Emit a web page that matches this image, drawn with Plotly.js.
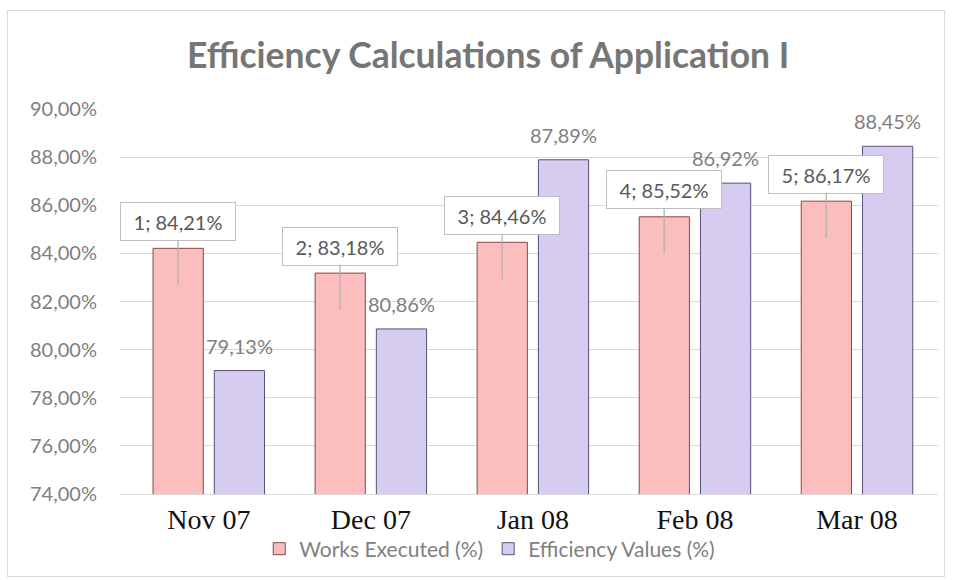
<!DOCTYPE html>
<html>
<head>
<meta charset="utf-8">
<script src="https://cdn.plot.ly/plotly-3.0.1.min.js"></script>
<style>
  html, body { margin: 0; padding: 0; background: #ffffff; }
  #wrap { position: relative; width: 957px; height: 580px; }
  #chart { position: absolute; left: 0; top: 0; width: 957px; height: 580px; }
  #frame { position: absolute; left: 7px; top: 10px; width: 938px; height: 567px;
           border: 1px solid #d9d9d9; pointer-events: none; box-sizing: border-box; }
</style>
</head>
<body>
<div id="wrap">
  <div id="chart"></div>
  <div id="frame"></div>
</div>
<script>
// ---- data ----
const categories = ["Nov 07", "Dec 07", "Jan 08", "Feb 08", "Mar 08"];
const worksExecuted = [84.21, 83.18, 84.46, 85.52, 86.17];
const efficiencyValues = [79.13, 80.86, 87.89, 86.92, 88.45];
const seriesNames = ["Works Executed (%)", "Efficiency Values (%)"];
const titleText = "Efficiency Calculations of Application I";

// ---- helpers / styles ----
const fmt = v => v.toFixed(2).replace('.', ',') + '%';
const labelFont = { family: "Lato, 'Open Sans', sans-serif", size: 20, color: '#7f7f7f' };
const calloutFont = { family: "Lato, 'Open Sans', sans-serif", size: 20, color: '#595959' };
const barOffset = 0.19;

const traces = [
  {
    type: 'bar', name: seriesNames[0], x: categories, y: worksExecuted,
    marker: { color: '#fbbdbd', line: { color: '#8a4646', width: 1 } },
    hoverinfo: 'skip'
  },
  {
    type: 'bar', name: seriesNames[1], x: categories, y: efficiencyValues,
    marker: { color: '#d6ccef', line: { color: '#55507a', width: 1 } },
    hoverinfo: 'skip'
  }
];

const annotations = [];
worksExecuted.forEach((v, i) => {
  annotations.push({
    x: i - barOffset, y: v, xref: 'x', yref: 'y',
    yshift: -37, ax: 0, ay: -64,
    showarrow: true, arrowhead: 0, arrowwidth: 1.2, arrowcolor: '#b0b0b0',
    text: (i + 1) + '; ' + fmt(v),
    font: calloutFont, bgcolor: '#ffffff', bordercolor: '#bfbfbf', borderwidth: 1,
    borderpad: 4, width: 106, height: 29
  });
});
efficiencyValues.forEach((v, i) => {
  annotations.push({
    x: i + barOffset, y: v, xref: 'x', yref: 'y',
    yshift: 25, yanchor: 'middle', showarrow: false,
    text: fmt(v), font: labelFont
  });
});

const layout = {
  width: 957, height: 580,
  margin: { l: 120, r: 19, t: 109, b: 85 },
  paper_bgcolor: '#ffffff', plot_bgcolor: '#ffffff',
  separators: ',.',
  title: {
    text: titleText,
    font: { family: "Lato, 'Open Sans', sans-serif", size: 35.5, color: '#767676', weight: 'bold' },
    xref: 'container', x: 0.51, xanchor: 'center',
    yref: 'container', y: 0.905, yanchor: 'middle'
  },
  bargap: 0.244, bargroupgap: 0.18, barmode: 'group',
  xaxis: {
    type: 'category', showgrid: false, ticks: '', zeroline: false,
    showline: true, linecolor: '#d9d9d9', linewidth: 1,
    tickfont: { family: "'Liberation Serif', 'Times New Roman', serif", size: 28, color: '#111111' }
  },
  yaxis: {
    range: [74, 90], dtick: 2, tick0: 74, tickformat: '.2f', ticksuffix: '%',
    showgrid: true, gridcolor: '#d9d9d9', gridwidth: 1, zeroline: false, showline: false,
    ticks: '', ticklabelstandoff: 22,
    tickfont: labelFont
  },
  legend: {
    orientation: 'h', x: 0.452, xanchor: 'center', y: -0.14, yanchor: 'middle',
    font: { family: "Lato, 'Open Sans', sans-serif", size: 21, color: '#808080' },
    itemwidth: 30, traceorder: 'normal'
  },
  annotations: annotations,
  showlegend: true
};

Plotly.newPlot('chart', traces, layout, { displayModeBar: false, staticPlot: true });
</script>
</body>
</html>
